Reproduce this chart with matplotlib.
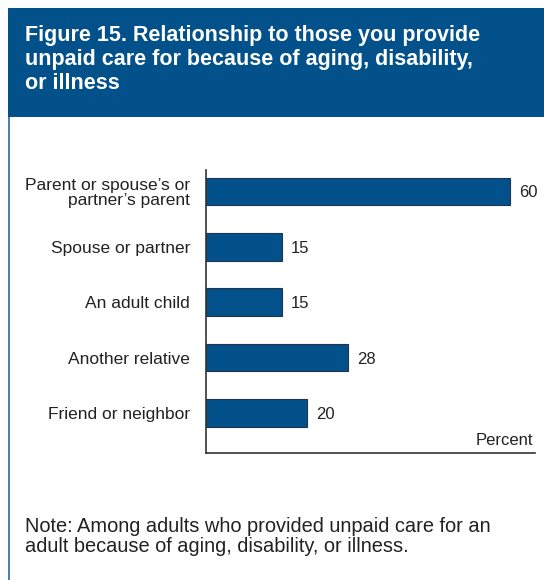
import matplotlib.pyplot as plt
from matplotlib.patches import Rectangle

categories = ["Parent or spouse\u2019s or\npartner\u2019s parent", "Spouse or partner",
              "An adult child", "Another relative", "Friend or neighbor"]
values = [60, 15, 15, 28, 20]

title = ("Figure 15. Relationship to those you provide\n"
         "unpaid care for because of aging, disability,\n"
         "or illness")
note = ("Note: Among adults who provided unpaid care for an\n"
        "adult because of aging, disability, or illness.")

W, H = 544, 580
blue = "#03518a"
ink = "#222222"
sans = ["Liberation Sans", "DejaVu Sans"]

fig = plt.figure(figsize=(W / 100, H / 100), dpi=100)


def fx(px):
    return px / W


def fy(py):
    return 1 - py / H


# header band and left rule
fig.add_artist(Rectangle((fx(8), fy(117)), fx(536), 109 / H, transform=fig.transFigure,
                         facecolor=blue, edgecolor="none"))
fig.add_artist(Rectangle((fx(8), 0), fx(2), fy(117), transform=fig.transFigure,
                         facecolor="#4f7fae", edgecolor="none"))

fig.text(fx(25), fy(25), title, color="white", fontsize=15.5, fontweight="bold",
         family=sans, va="top", ha="left", linespacing=1.2)

ax = fig.add_axes([fx(206), fy(453.3), fx(535 - 206), (453.3 - 170) / H])
pos = list(range(len(values)))
ax.barh(pos, values, height=0.495, color=blue, edgecolor="#23344a", linewidth=0.8)
ax.set_xlim(0, 65)
ax.set_ylim(4.727, -0.386)

for s in ["top", "right"]:
    ax.spines[s].set_visible(False)
for s in ["left", "bottom"]:
    ax.spines[s].set_color("#333333")
    ax.spines[s].set_linewidth(1.2)
ax.set_xticks([])
ax.set_yticks(pos)
ax.set_yticklabels(categories, fontsize=12.5, family=sans, linespacing=1.05, color=ink)
ax.tick_params(axis="y", length=0, pad=11.5)

for p, v in zip(pos, values):
    ax.text(v + 1.8, p, str(v), va="center_baseline", ha="left", fontsize=12,
            family=sans, color=ink)

ax.text(0.995, 0.02, "Percent", transform=ax.transAxes, ha="right", va="bottom",
        fontsize=12, family=sans, color=ink)

fig.text(fx(25), fy(517), note, fontsize=14.4, family=sans,
         color=ink, va="top", ha="left", linespacing=1.1)

fig.savefig("out.png", dpi=100)
